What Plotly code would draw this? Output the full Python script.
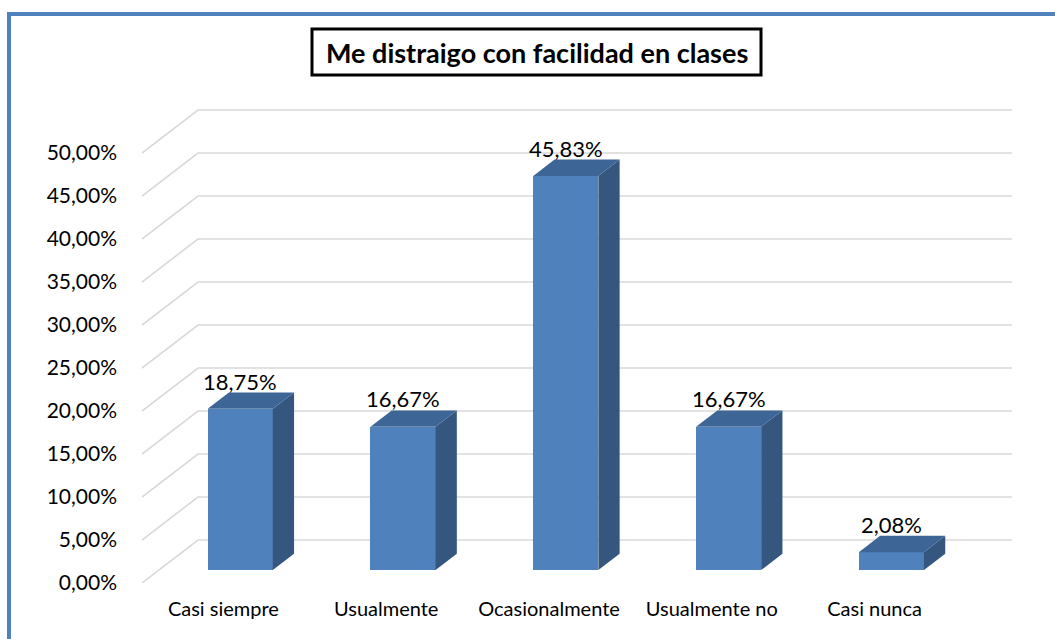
import plotly.graph_objects as go

# ---- data ----
categories = ["Casi siempre", "Usualmente", "Ocasionalmente", "Usualmente no", "Casi nunca"]
values = [18.75, 16.67, 45.83, 16.67, 2.08]
y_ticks = [0, 5, 10, 15, 20, 25, 30, 35, 40, 45, 50]
y_tick_text = ["0,00%", "5,00%", "10,00%", "15,00%", "20,00%", "25,00%",
               "30,00%", "35,00%", "40,00%", "45,00%", "50,00%"]
title_text = "Me distraigo con facilidad en clases"

# ---- 3D look geometry (in axis units) ----
DX = 0.344   # depth shift along x (category units)
DY = 5.0     # depth shift along y (percent units)
D0, D1 = 0.30, 0.68   # bar front / back depth fraction
HW = 0.20    # half bar width

FRONT = "#4F81BD"
TOP = "#3D6696"
SIDE = "#34567F"
GRID = "#D9D9D9"
FONT = "Lato"

W, H = 1055, 639
ML, MR, MT, MB = 142, 43, 100, 56
PW, PH = W - ML - MR, H - MT - MB


def px2paper_x(px):
    return (px - ML) / PW


def py2paper_y(py):
    return (H - MB - py) / PH


fig = go.Figure()

xs = list(range(len(categories)))

# front faces
fig.add_trace(go.Bar(
    x=[i + D0 * DX for i in xs], y=values, base=[D0 * DY] * len(values),
    width=2 * HW, marker=dict(color=FRONT, line=dict(width=0)),
    hoverinfo="skip", showlegend=False))

# side & top faces
for i, v in zip(xs, values):
    xr0 = i + HW + D0 * DX
    xr1 = i + HW + D1 * DX
    xl0 = i - HW + D0 * DX
    xl1 = i - HW + D1 * DX
    fig.add_trace(go.Scatter(
        x=[xr0, xr1, xr1, xr0, xr0],
        y=[D0 * DY, D1 * DY, v + D1 * DY, v + D0 * DY, D0 * DY],
        fill="toself", fillcolor=SIDE, mode="lines", line=dict(width=0, color=SIDE),
        hoverinfo="skip", showlegend=False))
    fig.add_trace(go.Scatter(
        x=[xl0, xr0, xr1, xl1, xl0],
        y=[v + D0 * DY, v + D0 * DY, v + D1 * DY, v + D1 * DY, v + D0 * DY],
        fill="toself", fillcolor=TOP, mode="lines", line=dict(width=0, color=TOP),
        hoverinfo="skip", showlegend=False))

# data labels
for i, v in zip(xs, values):
    fig.add_annotation(
        x=i + D0 * DX, y=v + D1 * DY, xref="x", yref="y",
        text=(f"{v:.2f}".replace(".", ",") + "%"), showarrow=False,
        yanchor="bottom", xanchor="center", yshift=-4,
        font=dict(family=FONT, size=22, color="#000000"))

# 3D gridlines (left wall diagonal + back wall)
x_left = -0.5
x_right = len(categories) - 0.5
shapes = []
for t in y_ticks:
    shapes.append(dict(
        type="path", xref="x", yref="y", layer="below",
        path=f"M {x_left},{t} L {x_left + DX},{t + DY} L {x_right + DX},{t + DY}",
        line=dict(color=GRID, width=1.6)))

# outer blue frame
shapes.append(dict(
    type="rect", xref="paper", yref="paper",
    x0=px2paper_x(9), x1=px2paper_x(W + 20), y0=py2paper_y(14), y1=py2paper_y(H + 20),
    line=dict(color="#4F81BD", width=4), layer="above"))

# title box
shapes.append(dict(
    type="rect", xref="paper", yref="paper",
    x0=px2paper_x(312), x1=px2paper_x(761), y0=py2paper_y(29), y1=py2paper_y(75),
    line=dict(color="#000000", width=3), fillcolor="white", layer="above"))
fig.update_layout(shapes=shapes)

fig.add_annotation(
    x=px2paper_x(536.5), y=py2paper_y(52), xref="paper", yref="paper",
    text=f"<b>{title_text}</b>", showarrow=False, xanchor="center", yanchor="middle",
    font=dict(family=FONT, size=27, color="#000000"))

fig.update_xaxes(
    range=[x_left, x_right + DX], tickvals=xs, ticktext=categories,
    showgrid=False, zeroline=False, showline=False, ticks="",
    ticklabelstandoff=12, tickfont=dict(family=FONT, size=20, color="#000000"),
    fixedrange=True)
fig.update_yaxes(
    range=[0, PH / 8.6], tickvals=y_ticks, ticktext=y_tick_text,
    showgrid=False, zeroline=False, showline=False, ticks="",
    ticklabelstandoff=24, tickfont=dict(family=FONT, size=21, color="#000000"),
    fixedrange=True)

fig.update_layout(
    width=W, height=H, margin=dict(l=ML, r=MR, t=MT, b=MB, pad=0),
    paper_bgcolor="white", plot_bgcolor="white", separators=",.",
    bargap=0, showlegend=False)

fig.write_html("out.html", config={"displayModeBar": False},
               post_script="document.body.style.margin='0';document.body.style.overflow='hidden';")
